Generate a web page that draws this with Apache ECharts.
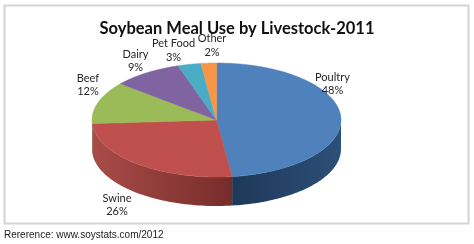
<!DOCTYPE html>
<html><head><meta charset="utf-8">
<script src="https://cdn.jsdelivr.net/npm/echarts@6/dist/echarts.min.js"></script>
<style>html,body{margin:0;padding:0;background:#fff}#c{width:474px;height:244px}</style>
</head><body><div id="c"></div>
<script>
// ---- data ----
const categories = ['Poultry', 'Swine', 'Beef', 'Dairy', 'Pet Food', 'Other'];
const shares = [48, 26, 12, 9, 3, 2];

// ---- styling / layout ----
const topColors = ['#4f81bd', '#c0504d', '#9bbb59', '#8064a2', '#4bacc6', '#f79646'];
const sideLight = ['#2d4f78', '#a84c49', '#7d9a43', '#63497f', '#3790a8', '#d2772b'];
const sideDark  = ['#1e3858', '#772c2a', '#5a7030', '#47345d', '#266a7c', '#a0561c'];
const CX = 216.5, CY = 120, RX = 124.5, RY = 57, DEPTH = 29;
// label anchors, offsets from the pie centre
const labelOffsets = [[116, -36], [-99.5, 85], [-128.5, -35], [-81, -59], [-43, -69.5], [-4.5, -74.5]];

const total = shares.reduce((a, b) => a + b, 0);
function sliceAngles(i) {
  let s = 0;
  for (let k = 0; k < i; k++) s += shares[k];
  const a0 = -Math.PI / 2 + s / total * Math.PI * 2;
  const a1 = a0 + shares[i] / total * Math.PI * 2;
  return [a0, a1];
}
function ell(t, dy) { return [CX + RX * Math.cos(t), CY + RY * Math.sin(t) + (dy || 0)]; }

const seriesData = categories.map((c, i) => ({ name: c, value: shares[i] }));

function renderSide(params, api) {
  const i = params.dataIndex;
  const [a0, a1] = sliceAngles(i);
  const lo = Math.max(a0, 0), hi = Math.min(a1, Math.PI);
  if (lo >= hi) return { type: 'group', children: [] };
  const N = 60, pts = [];
  for (let k = 0; k <= N; k++) pts.push(ell(lo + (hi - lo) * k / N, 0));
  for (let k = N; k >= 0; k--) pts.push(ell(lo + (hi - lo) * k / N, DEPTH));
  const xs = pts.map(p => p[0]);
  const xmin = Math.min(...xs), xmax = Math.max(...xs);
  const frontIsRight = (xmin + xmax) / 2 < CX;
  const grad = new echarts.graphic.LinearGradient(xmin, 0, xmax, 0, [
    { offset: 0, color: frontIsRight ? sideLight[i] : sideDark[i] },
    { offset: 1, color: frontIsRight ? sideDark[i] : sideLight[i] }
  ], true);
  return {
    type: 'polygon',
    shape: { points: pts },
    style: { fill: grad, stroke: null }
  };
}

function renderTop(params, api) {
  const i = params.dataIndex;
  const [a0, a1] = sliceAngles(i);
  const N = 80, pts = [[CX, CY]];
  for (let k = 0; k <= N; k++) pts.push(ell(a0 + (a1 - a0) * k / N, 0));
  const off = labelOffsets[i];
  return {
    type: 'group',
    children: [
      { type: 'polygon', shape: { points: pts }, style: { fill: topColors[i], stroke: topColors[i], lineWidth: 0.5 } },
      {
        type: 'text', x: CX + off[0], y: CY + off[1], z2: 10,
        style: {
          text: categories[i] + '\n' + api.value(0) + '%',
          align: 'center', verticalAlign: 'middle',
          font: '11px Lato', lineHeight: 13.5, fill: '#262626'
        }
      }
    ]
  };
}

const chart = echarts.init(document.getElementById('c'), null, { renderer: 'canvas' });
chart.setOption({
  animation: false,
  backgroundColor: '#ffffff',
  title: {
    text: 'Soybean Meal Use by Livestock-2011',
    left: 'center', top: 15,
    textStyle: { fontFamily: 'Lato', fontWeight: 'bold', fontSize: 16.5, color: '#111' }
  },
  graphic: [
    { type: 'rect', shape: { x: 4.5, y: 5.5, width: 464, height: 218 }, style: { fill: null, stroke: '#d4d4d4', lineWidth: 2 }, silent: true },
    { type: 'text', x: 4, y: 235, style: { text: 'Rererence: www.soystats.com/2012', font: '10px "Liberation Sans"', fill: '#222', verticalAlign: 'middle' } }
  ],
  series: [
    { type: 'custom', coordinateSystem: 'none', data: seriesData, renderItem: renderSide, z: 1, encode: { value: 0 } },
    { type: 'custom', coordinateSystem: 'none', data: seriesData, renderItem: renderTop, z: 2, encode: { value: 0 } }
  ]
});
</script>
</body></html>
